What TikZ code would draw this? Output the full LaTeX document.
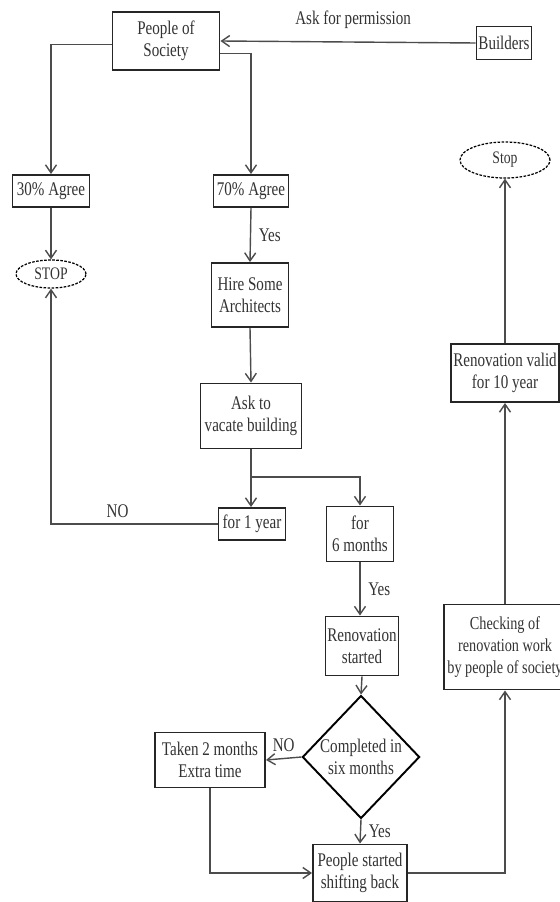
\documentclass[tikz,border=0pt]{standalone}
\usepackage{fontspec}
\setmainfont{Liberation Serif}[FakeStretch=0.78]
\usetikzlibrary{positioning, arrows.meta, shapes.geometric, calc}

\begin{document}
\begin{tikzpicture}[
    x=0.02cm, y=-0.02cm,
    box/.style={
        rectangle,
        draw=black!85,
        fill=white,
        line width=1.1pt,
        align=center,
        inner sep=1pt,
        text=black!80,
        font=\fontsize{11}{12.5}\selectfont
    },
    stopper/.style={
        ellipse,
        draw=black,
        dashed,
        dash pattern=on 1.5pt off 0.8pt,
        line width=0.7pt,
        inner sep=0pt,
        text=black!80,
        font=\fontsize{10}{12}\selectfont
    },
    decision/.style={
        diamond,
        draw=black,
        line width=1.1pt,
        align=center,
        inner sep=0pt,
        text=black!80,
        font=\fontsize{11}{12.5}\selectfont
    },
    arrow/.style={-{Straight Barb[length=1.6mm, width=2.2mm]}, line width=0.8pt, draw=black!70},
    line/.style={line width=0.8pt, draw=black!70},
    label/.style={text=black!80, font=\fontsize{11}{12.5}\selectfont}
]
\useasboundingbox (0,0) rectangle (560,902);

% Top row
\node[box, minimum width=2.14cm, minimum height=1.16cm] (people) at (166, 41) {People of\\Society};
\node[box, minimum width=1.1cm, minimum height=0.66cm] (builders) at (504, 43) {Builders};
\draw[arrow] (builders.west) -- (people.east)
    node[pos=0.48, above=4pt, label] {Ask for permission};

% Agree split
\node[box, minimum width=1.54cm, minimum height=0.64cm] (agree30) at (51, 191) {30\% Agree};
\node[box, minimum width=1.5cm, minimum height=0.64cm] (agree70) at (251, 191) {70\% Agree};
\draw[arrow] ([yshift=-2pt]people.west) -| (agree30.north);
\draw[arrow] ([yshift=-7pt]people.east) -| (agree70.north);

\node[stopper, minimum width=1.4cm, minimum height=0.56cm] (stop1) at (51, 274) {STOP};
\draw[arrow] (agree30.south) -- (stop1.north);

% Main column
\node[box, minimum width=1.54cm, minimum height=1.28cm] (hire) at (250, 295) {Hire Some\\Architects};
\draw[arrow] (agree70.south) -- (hire.north)
    node[midway, right=1pt, label] {Yes};

\node[box, minimum width=2.02cm, minimum height=1.3cm] (ask) at (251, 416) {Ask to\\vacate building};
\draw[arrow] (hire.south) -- (ask.north);

\node[box, minimum width=1.34cm, minimum height=0.64cm] (oneyear) at (252, 524) {for 1 year};
\node[box, minimum width=1.34cm, minimum height=1.1cm] (sixmonths) at (360, 534) {for\\6 months};
\coordinate (split) at (251, 477);
\draw[line] (ask.south) -- (split);
\draw[arrow] (split) -- (split |- oneyear.north);
\draw[arrow] (split) -| (sixmonths.north);

% Back to STOP
\draw[arrow] (oneyear.west) -| (stop1.south)
    node[pos=0.3, above, label] {NO};

% Renovation
\node[box, minimum width=1.46cm, minimum height=1.18cm] (renovation) at (362, 646) {Renovation\\started};
\draw[arrow] (sixmonths.south) -- (sixmonths.south |- renovation.north)
    node[midway, right=1pt, label] {Yes};

\node[decision, minimum width=2.3cm, minimum height=2.46cm] (done) at (361, 757) {Completed in\\six months};
\draw[arrow] (renovation.south) -- (done.north);

\node[box, minimum width=2.2cm, minimum height=1.1cm] (taken) at (210, 760) {Taken 2 months\\Extra time};
\draw[arrow] (done.west) -- (taken.east)
    node[midway, above, label] {NO};

\node[box, minimum width=1.88cm, minimum height=1.14cm] (shifting) at (360, 873) {People started\\shifting back};
\draw[arrow] (done.south) -- (shifting.north)
    node[midway, right=1pt, label] {Yes};
\draw[arrow] (taken.south) |- (shifting.west);

% Right column
\node[box, minimum width=2.44cm, minimum height=1.7cm, font=\fontsize{10.4}{12.5}\selectfont] (checking) at (505, 647) {Checking of\\renovation work\\by people of society};
\draw[arrow] (shifting.east) -| (checking.south);

\node[box, minimum width=2.16cm, minimum height=1.16cm] (valid) at (505, 373) {Renovation valid\\for 10 year};
\draw[arrow] (checking.north) -- (valid.south);

\node[stopper, minimum width=1.8cm, minimum height=0.72cm] (stop2) at (505, 160) {Stop};
\draw[arrow] (valid.north) -- (stop2.south);

\end{tikzpicture}
\end{document}
